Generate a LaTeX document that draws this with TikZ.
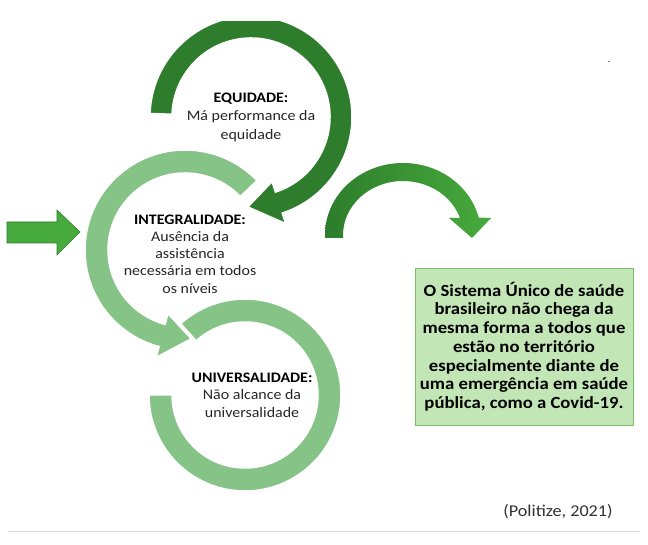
\documentclass[tikz,border=0pt]{standalone}
\usepackage{fontspec}
\setmainfont{Carlito}[FakeStretch=1.1]
\definecolor{dkgreen}{HTML}{2D7D2C}
\definecolor{ltgreen}{HTML}{86C386}
\definecolor{midgreen}{HTML}{47AA3C}
\definecolor{boxfill}{HTML}{C3E6B6}
\definecolor{boxline}{HTML}{7CBF6A}
\begin{document}
\begin{tikzpicture}[x=1pt,y=1pt,
  ringdk/.style={fill=dkgreen,draw=white,line width=1.5pt},
  ringlt/.style={fill=ltgreen,draw=white,line width=1.5pt},
  lbl/.style={align=center,text=black!85,inner sep=0pt}]
\useasboundingbox (0,0) rectangle (648,544);
\fill[white] (0,0) rectangle (648,544);

% universalidade ring
\begin{scope}[shift={(245,149)}]
\path[ringlt] (132:96) arc[start angle=132,end angle=-180,radius=96] -- (180:73) arc[start angle=-180,end angle=132,radius=73] -- cycle;
\end{scope}

% integralidade ring
\begin{scope}[shift={(185,294)}]
\path[ringlt] (44:100) arc[start angle=44,end angle=255,radius=100] -- (255:111) -- (274:89) -- (255:66) -- (255:77) arc[start angle=255,end angle=44,radius=77] -- cycle;
\end{scope}

% equidade ring
\begin{scope}
\clip (0,0) rectangle (648,522);
\begin{scope}[shift={(251,427)}]
\path[ringdk] (178:101) arc[start angle=178,end angle=-72,radius=101] -- (-72:112) -- (-92:90) -- (-72:68) -- (-72:79) arc[start angle=-72,end angle=178,radius=79] -- cycle;
\end{scope}
\end{scope}

% left block arrow
\path[fill=midgreen,draw=dkgreen,line width=0.6pt] (7,322) -- (57,322) -- (57,334) -- (80,312) -- (57,289) -- (57,301) -- (7,301) -- cycle;

% curved arrow
\shade[left color=dkgreen,right color=midgreen] (325,306) -- (325,309) arc[start angle=180,end angle=14,x radius=78,y radius=72] -- (491,326) -- (472,306) -- (449,326) -- (460,326) arc[start angle=18.35,end angle=180,x radius=60,y radius=54] -- (343,306) -- cycle;

% texts
\node[lbl,font=\fontsize{14.5}{18.5}\selectfont] (equi) at (251,427) {\textbf{\textcolor{black}{EQUIDADE:}}\\Má performance da\\equidade};
\node[lbl,font=\fontsize{14.5}{17.3}\selectfont] (integ) at (190,290) {\textbf{\textcolor{black}{INTEGRALIDADE:}}\\Ausência da\\assistência\\necessária em todos\\os níveis};
\node[lbl,font=\fontsize{14.5}{17.3}\selectfont] (univ) at (252,149) {\textbf{\textcolor{black}{UNIVERSALIDADE:}}\\Não alcance da\\universalidade};

\node[draw=boxline,fill=boxfill,line width=0.8pt,minimum width=218pt,minimum height=157pt,align=center,inner sep=0pt,text=black,font=\bfseries\fontsize{17}{18.7}\selectfont] (box) at (524,197.5) {O Sistema Único de saúde\\brasileiro não chega da\\mesma forma a todos que\\estão no território\\especialmente diante de\\uma emergência em saúde\\pública, como a Covid-19.};

\node[font=\fontsize{16.5}{19}\selectfont,text=black!80,inner sep=0pt] (src) at (558,32) {(Politize, 2021)};
\draw[black!15,line width=1pt] (8,13) -- (640,13);
\fill[black!45] (607.5,481.5) rectangle (610,483);
\end{tikzpicture}
\end{document}
